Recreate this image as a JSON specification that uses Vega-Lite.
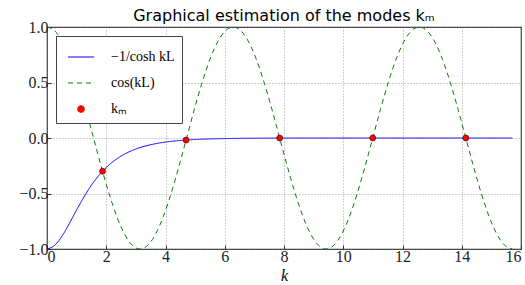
{
  "$schema": "https://vega.github.io/schema/vega-lite/v6.json",
  "width": 474,
  "height": 222,
  "autosize": {"type": "none"},
  "padding": {"left": 47, "top": 27, "right": 4, "bottom": 36},
  "background": "white",
  "title": {
    "text": "Graphical estimation of the modes kₘ",
    "font": "DejaVu Sans",
    "fontSize": 16,
    "fontWeight": "normal",
    "color": "black",
    "anchor": "middle",
    "offset": -5
  },
  "config": {
    "view": {"stroke": "#333333", "strokeWidth": 1.2},
    "axis": {
      "labelFont": "Liberation Serif",
      "labelFontSize": 16,
      "labelColor": "#222222",
      "titleFont": "Liberation Serif",
      "titleFontSize": 16,
      "titleFontStyle": "italic",
      "titleFontWeight": "normal",
      "titleColor": "black",
      "domain": false,
      "gridColor": "#888888",
      "gridDash": [1, 2],
      "gridWidth": 0.8,
      "tickColor": "#333333",
      "tickSize": -4,
      "labelPadding": 3
    }
  },
  "datasets": {
    "curves": [
      {"k": 0.0, "f": -1.0, "c": 1.0},
      {"k": 0.2618, "f": -0.96668, "c": 0.96593},
      {"k": 0.5236, "f": -0.87701, "c": 0.86603},
      {"k": 0.7854, "f": -0.75494, "c": 0.70711},
      {"k": 1.0472, "f": -0.62489, "c": 0.5},
      {"k": 1.309, "f": -0.50345, "c": 0.25882},
      {"k": 1.5708, "f": -0.39854, "c": 0.0},
      {"k": 1.8326, "f": -0.31201, "c": -0.25882},
      {"k": 2.0944, "f": -0.24261, "c": -0.5},
      {"k": 2.3562, "f": -0.18787, "c": -0.70711},
      {"k": 2.618, "f": -0.14513, "c": -0.86603},
      {"k": 2.8798, "f": -0.11194, "c": -0.96593},
      {"k": 3.1416, "f": -0.08627, "c": -1.0},
      {"k": 3.4034, "f": -0.06645, "c": -0.96593},
      {"k": 3.6652, "f": -0.05117, "c": -0.86603},
      {"k": 3.927, "f": -0.03939, "c": -0.70711},
      {"k": 4.1888, "f": -0.03032, "c": -0.5},
      {"k": 4.4506, "f": -0.02334, "c": -0.25882},
      {"k": 4.7124, "f": -0.01797, "c": 0.0},
      {"k": 4.9742, "f": -0.01383, "c": 0.25882},
      {"k": 5.236, "f": -0.01064, "c": 0.5},
      {"k": 5.4978, "f": -0.00819, "c": 0.70711},
      {"k": 5.7596, "f": -0.00631, "c": 0.86603},
      {"k": 6.0214, "f": -0.00485, "c": 0.96593},
      {"k": 6.2832, "f": -0.00374, "c": 1.0},
      {"k": 6.545, "f": -0.00287, "c": 0.96593},
      {"k": 6.8068, "f": -0.00221, "c": 0.86603},
      {"k": 7.0686, "f": -0.0017, "c": 0.70711},
      {"k": 7.3304, "f": -0.00131, "c": 0.5},
      {"k": 7.5922, "f": -0.00101, "c": 0.25882},
      {"k": 7.854, "f": -0.00078, "c": 0.0},
      {"k": 8.1158, "f": -0.0006, "c": -0.25882},
      {"k": 8.3776, "f": -0.00046, "c": -0.5},
      {"k": 8.6394, "f": -0.00035, "c": -0.70711},
      {"k": 8.9012, "f": -0.00027, "c": -0.86603},
      {"k": 9.163, "f": -0.00021, "c": -0.96593},
      {"k": 9.4248, "f": -0.00016, "c": -1.0},
      {"k": 9.6866, "f": -0.00012, "c": -0.96593},
      {"k": 9.9484, "f": -0.0001, "c": -0.86603},
      {"k": 10.2102, "f": -0.00007, "c": -0.70711},
      {"k": 10.472, "f": -0.00006, "c": -0.5},
      {"k": 10.7338, "f": -0.00004, "c": -0.25882},
      {"k": 10.9956, "f": -0.00003, "c": 0.0},
      {"k": 11.2574, "f": -0.00003, "c": 0.25882},
      {"k": 11.5192, "f": -0.00002, "c": 0.5},
      {"k": 11.781, "f": -0.00002, "c": 0.70711},
      {"k": 12.0428, "f": -0.00001, "c": 0.86603},
      {"k": 12.3046, "f": -0.00001, "c": 0.96593},
      {"k": 12.5664, "f": -0.00001, "c": 1.0},
      {"k": 12.8282, "f": 0.0, "c": 0.96593},
      {"k": 13.09, "f": 0.0, "c": 0.86603},
      {"k": 13.3518, "f": 0.0, "c": 0.70711},
      {"k": 13.6136, "f": 0.0, "c": 0.5},
      {"k": 13.8754, "f": 0.0, "c": 0.25882},
      {"k": 14.1372, "f": 0.0, "c": 0.0},
      {"k": 14.399, "f": 0.0, "c": -0.25882},
      {"k": 14.6608, "f": 0.0, "c": -0.5},
      {"k": 14.9226, "f": 0.0, "c": -0.70711},
      {"k": 15.1844, "f": 0.0, "c": -0.86603},
      {"k": 15.4462, "f": 0.0, "c": -0.96593},
      {"k": 15.708, "f": 0.0, "c": -1.0}
    ],
    "roots": [
      {"k": 1.8751, "y": -0.2997, "series": "c"},
      {"k": 4.6941, "y": -0.0184, "series": "c"},
      {"k": 7.8548, "y": -0.0008, "series": "c"},
      {"k": 10.9955, "y": 0.0, "series": "c"},
      {"k": 14.1372, "y": 0.0, "series": "c"}
    ]
  },
  "layer": [
    {
      "data": {"name": "curves"},
      "transform": [{"fold": ["f", "c"], "as": ["key", "y"]},
        {"lookup": "key", "from": {"data": {"values": [{"key": "f", "series": "a"}, {"key": "c", "series": "b"}]}, "key": "key", "fields": ["series"]}}],
      "mark": {"type": "line", "strokeWidth": 1, "interpolate": "monotone", "clip": true},
      "encoding": {
        "x": {"field": "k", "type": "quantitative",
              "scale": {"domain": [0, 16], "nice": false, "zero": false},
              "axis": {"title": "k", "values": [0, 2, 4, 6, 8, 10, 12, 14, 16], "labelExpr": "format(datum.value, 'd')", "titlePadding": 3}},
        "y": {"field": "y", "type": "quantitative",
              "scale": {"domain": [-1, 1], "nice": false, "zero": false},
              "axis": {"title": null, "values": [-1, -0.5, 0, 0.5, 1], "labelExpr": "replace(format(datum.value, '.1f'), '-', '−')"}},
        "detail": {"field": "series"},
        "color": {"field": "series", "type": "nominal",
                  "scale": {"domain": ["a", "b", "c"], "range": ["#0000ff", "#008000", "#ff0000"]},
                  "legend": {
                    "title": null,
                    "orient": "none",
                    "legendX": 9,
                    "legendY": 9,
                    "padding": 7,
                    "symbolOffset": 4,
                    "fillColor": "white",
                    "strokeColor": "#444444",
                    "rowPadding": 5,
                    "symbolType": "stroke",
                    "symbolSize": 680,
                    "symbolStrokeWidth": 1.2,
                    "labelFont": "Liberation Serif",
                    "labelFontSize": 14,
                    "labelColor": "black",
                    "labelOffset": 16,
                    "labelExpr": "datum.value === 'a' ? '−1/cosh kL' : datum.value === 'b' ? 'cos(kL)' : 'kₘ'",
                    "encode": {
                      "symbols": {
                        "update": {
                          "shape": {"signal": "datum.value === 'c' ? 'circle' : 'stroke'"},
                          "size": {"signal": "datum.value === 'c' ? 40 : 680"},
                          "fill": {"signal": "datum.value === 'c' ? '#ff0000' : 'transparent'"},
                          "stroke": {"signal": "datum.value === 'a' ? '#0000ff' : datum.value === 'b' ? '#008000' : '#ff0000'"},
                          "strokeDash": {"signal": "datum.value === 'b' ? [5, 4] : [1, 0]"},
                          "opacity": {"value": 1}
                        }
                      }
                    }
                  }},
        "strokeDash": {"field": "series", "type": "nominal",
                       "scale": {"domain": ["a", "b"], "range": [[1, 0], [5, 4]]},
                       "legend": null}
      }
    },
    {
      "data": {"name": "roots"},
      "mark": {"type": "point", "filled": true, "size": 36, "stroke": "#330000", "strokeWidth": 0.6, "opacity": 1},
      "encoding": {
        "x": {"field": "k", "type": "quantitative"},
        "y": {"field": "y", "type": "quantitative"},
        "color": {"field": "series", "type": "nominal"}
      }
    }
  ]
}
